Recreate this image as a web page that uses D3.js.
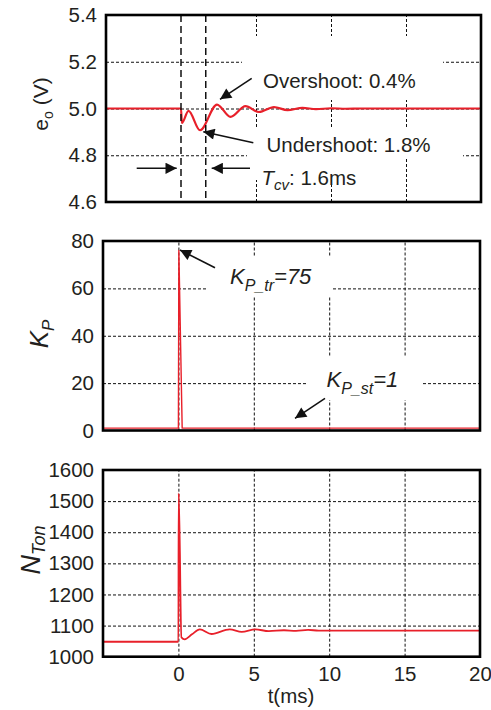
<!DOCTYPE html>
<html><head><meta charset="utf-8">
<script src="https://cdn.jsdelivr.net/npm/d3@7"></script>
<style>
html,body{margin:0;padding:0;background:#fff;}
svg text{font-family:"Liberation Sans",Arial,sans-serif;fill:#231f20;}
</style></head>
<body><svg id="c" width="491" height="710"></svg>
<script>
// ---- data ----
const tDomain = [-5, 20];
const xTicks = [0, 5, 10, 15, 20];
const xGridTop = [5, 10, 15];
const xGrid = [0, 5, 10, 15];

const eoTicks = [4.6, 4.8, 5.0, 5.2, 5.4];
const eoGrid = [4.8, 5.0, 5.2];
const eoT = [-5, 0, 0.06, 0.5, 1.27, 2.4, 3.3, 4.3, 5.2, 6.2, 7.1, 8.1, 9.0, 10, 11, 12, 13, 20];
const eoV = [5.0, 5.0, 4.938, 4.99, 4.907, 5.017, 4.964, 5.010, 4.985, 5.006, 4.993, 5.003, 4.997, 5.001, 4.999, 5.0, 5.0, 5.0];

const kpTicks = [0, 20, 40, 60, 80];
const kpGrid = [20, 40, 60];
const kpT = [-5, 0, 0.03, 0.25, 20];
const kpV = [1, 1, 76, 1, 1];

const ntTicks = [1000, 1100, 1200, 1300, 1400, 1500, 1600];
const ntGrid = [1100, 1200, 1300, 1400, 1500];
const ntT = [-5, 0, 0.02, 0.2, 0.42, 0.9, 1.42, 2.2, 3.4, 4.2, 5.1, 6.0, 7.0, 7.8, 8.6, 9.3, 10, 20];
const ntV = [1048, 1048, 1525, 1062, 1056, 1072, 1088, 1073, 1088, 1080, 1088, 1082, 1085, 1083, 1086, 1084, 1084, 1084];

const tcvMarks = [0, 1.65];

const RED = "#e8202a";
const svg = d3.select("#c");

function makePanel(cfg) {
  const g = svg.append("g");
  const x = d3.scaleLinear().domain(tDomain).range([cfg.left, cfg.right]);
  const y = d3.scaleLinear().domain(cfg.yDomain).range([cfg.bottom, cfg.top]);
  const h = cfg.bottom - cfg.top, w = cfg.right - cfg.left;
  // vertical grid
  const gx = g.append("g").attr("transform", `translate(0,${cfg.bottom})`)
    .call(d3.axisBottom(x).tickValues(cfg.xGrid).tickSize(-h).tickFormat(""));
  gx.select(".domain").remove();
  gx.selectAll("line").attr("stroke", "#111").attr("stroke-width", 1).attr("stroke-dasharray", "3,2");
  // horizontal grid
  const gy = g.append("g").attr("transform", `translate(${cfg.left},0)`)
    .call(d3.axisLeft(y).tickValues(cfg.yGrid).tickSize(-w).tickFormat(""));
  gy.select(".domain").remove();
  gy.selectAll("line").attr("stroke", "#111").attr("stroke-width", 1).attr("stroke-dasharray", "3,2");
  // white label boxes
  (cfg.boxes || []).forEach(b => g.append("rect").attr("x", b[0]).attr("y", b[1])
     .attr("width", b[2] - b[0]).attr("height", b[3] - b[1]).attr("fill", "#fff"));
  // y tick labels
  const yl = g.append("g").attr("transform", `translate(${cfg.left},0)`)
    .call(d3.axisLeft(y).tickValues(cfg.yTicks).tickSize(0).tickPadding(9)
      .tickFormat(cfg.fmt));
  yl.select(".domain").remove();
  yl.selectAll("text").attr("font-size", 20.5).attr("fill", "#231f20")
    .attr("font-family", "Liberation Sans, Arial, sans-serif");
  // series
  const line = d3.line().x((d, i) => x(cfg.t[i])).y(d => y(d)).curve(cfg.curve);
  g.append("path").datum(cfg.v).attr("d", line).attr("fill", "none")
    .attr("stroke", RED).attr("stroke-width", cfg.lw).attr("stroke-linejoin", "round");
  return {g, x, y};
}

// arrow marker
svg.append("defs").append("marker").attr("id", "ah")
  .attr("viewBox", "0 0 10 10").attr("refX", 10).attr("refY", 5)
  .attr("markerWidth", 8).attr("markerHeight", 7).attr("markerUnits", "strokeWidth")
  .attr("orient", "auto")
  .append("path").attr("d", "M0,0 L10,5 L0,10 Z").attr("fill", "#111");

function arrow(x1, y1, x2, y2) {
  svg.append("line").attr("x1", x1).attr("y1", y1).attr("x2", x2).attr("y2", y2)
    .attr("stroke", "#111").attr("stroke-width", 1.6).attr("marker-end", "url(#ah)");
}

// ---- Top panel: e_o ----
const P1 = makePanel({left: 106, right: 481, top: 15, bottom: 202,
  yDomain: [4.6, 5.4], yTicks: eoTicks, yGrid: eoGrid, xGrid: xGridTop,
  fmt: d3.format(".1f"), t: eoT, v: eoV, curve: d3.curveMonotoneX, lw: 2.2,
  boxes: [[242, 36, 443, 100], [247, 128, 463, 158], [255, 158, 385, 180]]});
tcvMarks.forEach(m => P1.g.append("line").attr("x1", P1.x(m)).attr("x2", P1.x(m))
  .attr("y1", 15).attr("y2", 202).attr("stroke", "#111").attr("stroke-width", 1.5)
  .attr("stroke-dasharray", "7,4"));
P1.g.append("rect").attr("x", 106).attr("y", 15).attr("width", 375).attr("height", 187)
  .attr("fill", "none").attr("stroke", "#000").attr("stroke-width", 2.6);

// ---- Middle panel: K_P ----
const P2 = makePanel({left: 103, right: 480, top: 241, bottom: 430.5,
  yDomain: [0, 80], yTicks: kpTicks, yGrid: kpGrid, xGrid: xGrid,
  fmt: d3.format("d"), t: kpT, v: kpV, curve: d3.curveLinear, lw: 1.4,
  boxes: [[208, 256, 333, 297], [307, 356, 422, 400]]});
P2.g.append("rect").attr("x", 103).attr("y", 241).attr("width", 377).attr("height", 189.5)
  .attr("fill", "none").attr("stroke", "#000").attr("stroke-width", 2.6);

// ---- Bottom panel: N_Ton ----
const P3 = makePanel({left: 103, right: 480, top: 470, bottom: 656.7,
  yDomain: [1000, 1600], yTicks: ntTicks, yGrid: ntGrid, xGrid: xGrid,
  fmt: d3.format("d"), t: ntT, v: ntV, curve: d3.curveMonotoneX, lw: 1.8});
P3.g.append("rect").attr("x", 103).attr("y", 470).attr("width", 377).attr("height", 186.7)
  .attr("fill", "none").attr("stroke", "#000").attr("stroke-width", 2.6);
const xl = P3.g.append("g").attr("transform", "translate(0,656.7)")
  .call(d3.axisBottom(P3.x).tickValues(xTicks).tickSize(0).tickPadding(10).tickFormat(d3.format("d")));
xl.select(".domain").remove();
xl.selectAll("text").attr("font-size", 20.5).attr("fill", "#231f20")
  .attr("font-family", "Liberation Sans, Arial, sans-serif");
svg.append("text").attr("x", 291).attr("y", 703).attr("text-anchor", "middle")
  .attr("font-size", 20.5).text("t(ms)");

// ---- axis titles ----
function vtitle(x, y, parts, size) {
  const t = svg.append("text").attr("transform", `translate(${x},${y}) rotate(-90)`)
    .attr("text-anchor", "middle").attr("font-size", size);
  parts.forEach(p => {
    const s = t.append("tspan").text(p.text);
    if (p.italic) s.attr("font-style", "italic");
    if (p.size) s.attr("font-size", p.size);
    if (p.dy) s.attr("dy", p.dy);
  });
}
vtitle(48, 104, [{text: "e"}, {text: "o", size: 14, dy: 5}, {text: " (V)", dy: -5}], 21);
vtitle(48, 334, [{text: "K", italic: true}, {text: "P", italic: true, size: 17, dy: 6}], 26);
vtitle(40, 550, [{text: "N", italic: true}, {text: "Ton", italic: true, size: 18, dy: 5}], 27);

// ---- annotations ----
function label(x, y, parts, size, italic) {
  const t = svg.append("text").attr("x", x).attr("y", y).attr("font-size", size);
  if (italic) t.attr("font-style", "italic");
  parts.forEach(p => {
    const s = t.append("tspan").text(p.text);
    if (p.size) s.attr("font-size", p.size);
    if (p.dy) s.attr("dy", p.dy);
    if (p.italic) s.attr("font-style", "italic");
  });
}
label(263, 87.5, [{text: "Overshoot: 0.4%"}], 20.5);
label(266.5, 152, [{text: "Undershoot: 1.8%"}], 20.5);
label(261.5, 185, [{text: "T", italic: true}, {text: "cv", italic: true, size: 15, dy: 5}, {text: ": 1.6ms", dy: -5}], 20.5);
arrow(251.7, 78.3, 220, 99.3);
arrow(253.3, 142.7, 203.3, 131.7);
arrow(136.7, 168.3, 176.7, 168.3);
arrow(250, 168.3, 211.7, 168.3);

label(230, 283.5, [{text: "K"}, {text: "P_tr", size: 16, dy: 7}, {text: "=75", dy: -7}], 22, true);
label(326.5, 387, [{text: "K"}, {text: "P_st", size: 16, dy: 7}, {text: "=1", dy: -7}], 22, true);
arrow(215, 267.7, 180, 250);
arrow(325, 398.3, 295, 418.3);
</script></body></html>
